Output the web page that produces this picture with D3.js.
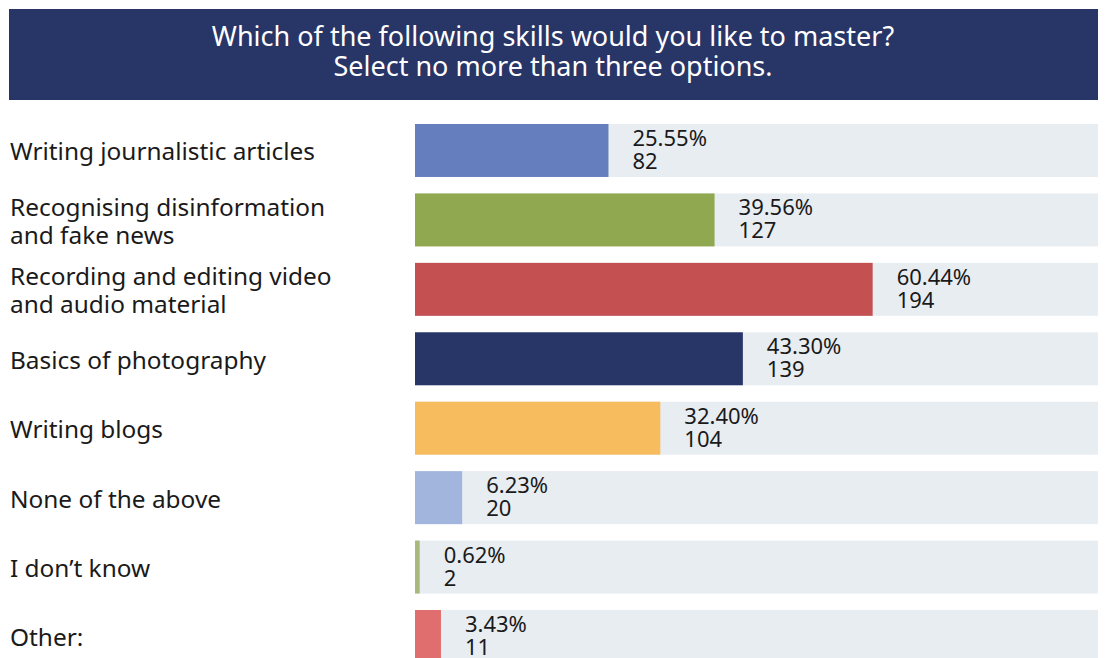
<!DOCTYPE html>
<html><head><meta charset="utf-8">
<script src="https://cdn.jsdelivr.net/npm/d3@7"></script>
<style>
html,body{margin:0;padding:0;background:#fff;}
svg{display:block;font-family:"Noto Sans", sans-serif;}
</style></head>
<body>
<svg id="c" width="1105" height="658"></svg>
<script>
const titleLines = ["Which of the following skills would you like to master?", "Select no more than three options."];
const categories = [
  ["Writing journalistic articles"],
  ["Recognising disinformation", "and fake news"],
  ["Recording and editing video", "and audio material"],
  ["Basics of photography"],
  ["Writing blogs"],
  ["None of the above"],
  ["I don\u2019t know"],
  ["Other:"]
];
const percents = [25.55, 39.56, 60.44, 43.30, 32.40, 6.23, 0.62, 3.43];
const counts = [82, 127, 194, 139, 104, 20, 2, 11];
const palette = ["#657ebd", "#90a84f", "#c45051", "#283567", "#f6bc5d", "#a2b5dc", "#a9b97d", "#e06e6e"];

const svg = d3.select("#c");

// title
svg.append("rect").attr("x", 9).attr("y", 9).attr("width", 1089).attr("height", 91).attr("fill", "#283567");
const title = svg.append("text").attr("text-anchor", "middle").attr("fill", "#fff").style("font-size", "27px");
title.append("tspan").attr("x", 553).attr("y", 46).text(titleLines[0]);
title.append("tspan").attr("x", 553).attr("y", 76).text(titleLines[1]);

const idx = d3.range(categories.length);
const step = 69.43, pad = 0.237;
const y = d3.scaleBand().domain(idx).range([124, 124 + step * (idx.length - pad)])
  .paddingInner(pad).paddingOuter(0).align(0);
const x = d3.scaleLinear().domain([0, 90.2]).range([415, 1098]);
const color = d3.scaleOrdinal().domain(idx).range(palette);

const rows = svg.append("g").selectAll("g").data(idx).join("g");
rows.append("rect").attr("x", x(0)).attr("y", i => y(i)).attr("width", x(90.2) - x(0))
  .attr("height", y.bandwidth()).attr("fill", "#e8edf2");
rows.append("rect").attr("x", x(0)).attr("y", i => y(i)).attr("width", i => x(percents[i]) - x(0))
  .attr("height", y.bandwidth()).attr("fill", i => color(i));

rows.each(function(i) {
  const g = d3.select(this);
  const vx = x(percents[i]) + 24;
  const v = g.append("text").attr("fill", "#1a1a1a").style("font-size", "22px");
  v.append("tspan").attr("x", vx).attr("y", y(i) + 22).text(percents[i].toFixed(2) + "%");
  v.append("tspan").attr("x", vx).attr("y", y(i) + 45).text(counts[i]);

  const c = y(i) + y.bandwidth() / 2;
  const lines = categories[i];
  const t = g.append("text").attr("x", 10).attr("fill", "#1a1a1a").style("font-size", "24.4px");
  if (lines.length === 1) {
    t.attr("y", c + 10).text(lines[0]);
  } else {
    t.append("tspan").attr("x", 10).attr("y", c - 4).text(lines[0]);
    t.append("tspan").attr("x", 10).attr("y", c + 24).text(lines[1]);
  }
});
</script>
</body></html>
